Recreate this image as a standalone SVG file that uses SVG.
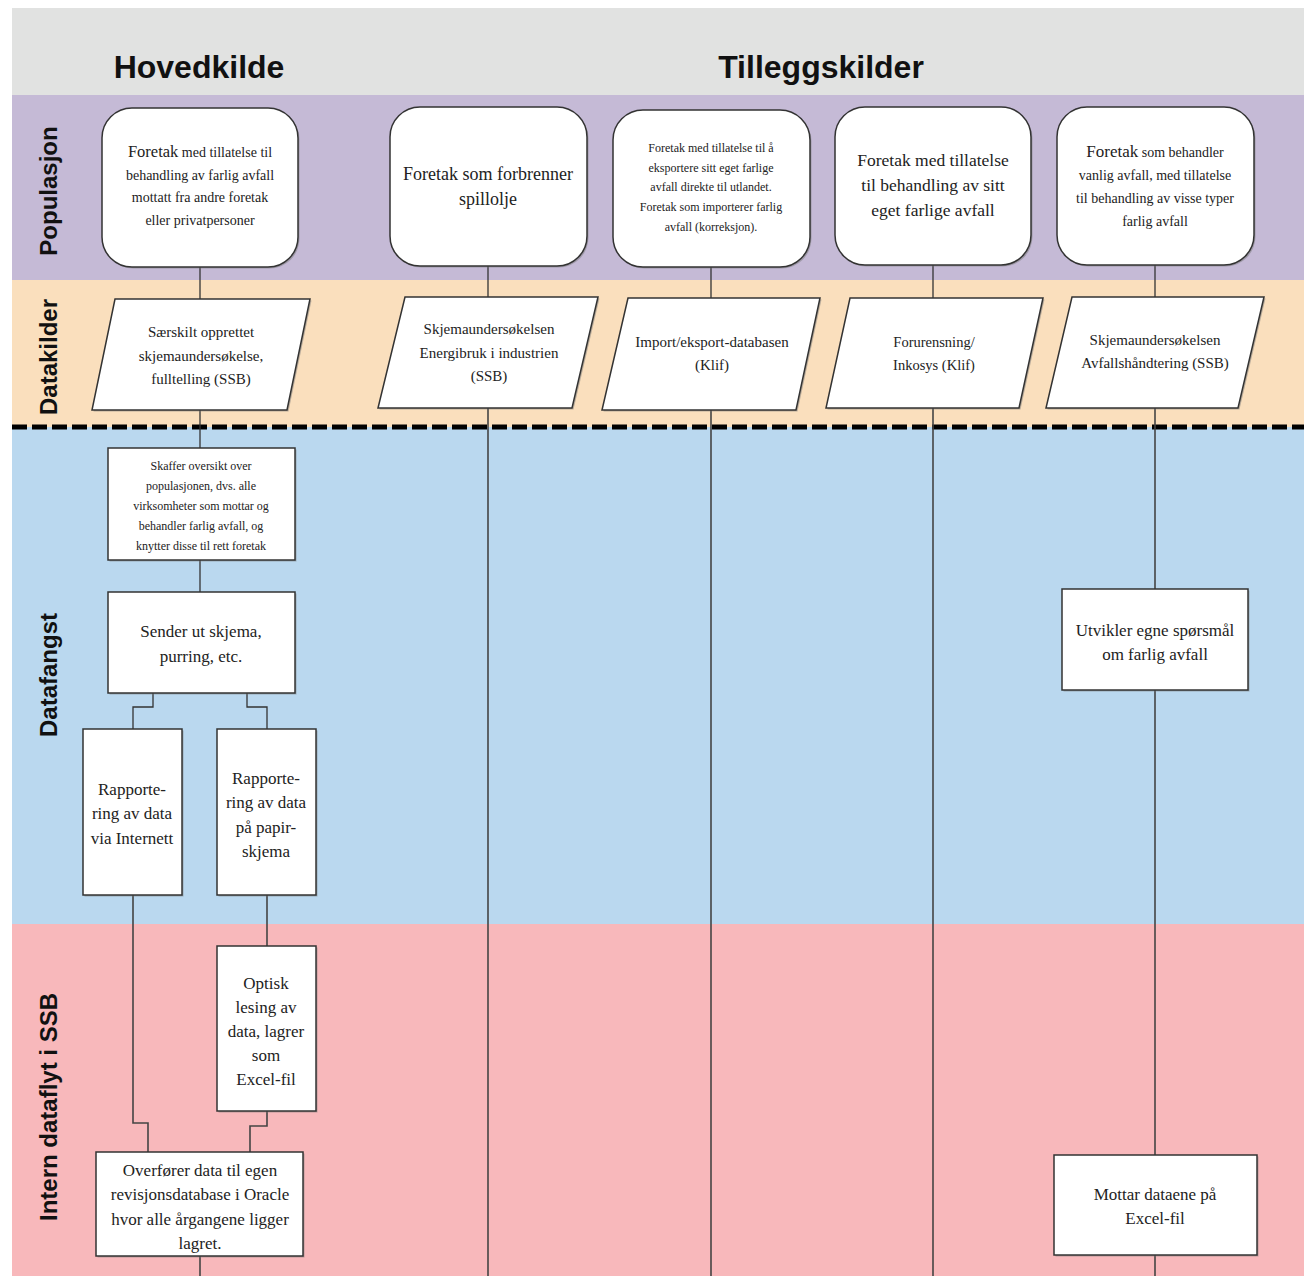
<svg xmlns="http://www.w3.org/2000/svg" width="1304" height="1276" viewBox="0 0 1304 1276">
<style>
.hdr{font-family:"Liberation Sans",Arial,sans-serif;font-weight:bold;font-size:32px;fill:#111;text-anchor:middle}
.lane{font-family:"Liberation Sans",Arial,sans-serif;font-weight:bold;font-size:24px;fill:#111;text-anchor:middle}
.t{font-family:"Liberation Serif","Times New Roman",serif;fill:#222;text-anchor:middle}
.box{fill:#fff;stroke:#333;stroke-width:1.5}
.sh{fill:#777;opacity:0.5}
.ln{fill:none;stroke:#333;stroke-width:1.3}
.col{fill:none;stroke:#444;stroke-width:1.6}
</style>
<rect x="0" y="0" width="1304" height="1276" fill="#fff"/>
<g id="lanes">
<rect x="12" y="8" width="1292" height="87" fill="#e1e2e1"/>
<rect x="12" y="95" width="1292" height="185" fill="#c5bad6"/>
<rect x="12" y="280" width="1292" height="147" fill="#fadfbd"/>
<rect x="12" y="427" width="1292" height="497" fill="#bad8ef"/>
<rect x="12" y="924" width="1292" height="352" fill="#f8b8bb"/>
<line x1="12" y1="427" x2="1304" y2="427" stroke="#000" stroke-width="5" stroke-dasharray="15 5"/>
<text class="hdr" x="199" y="78">Hovedkilde</text>
<text class="hdr" x="821" y="78">Tilleggskilder</text>
<text class="lane" transform="translate(57,191) rotate(-90)">Populasjon</text>
<text class="lane" transform="translate(57,357) rotate(-90)">Datakilder</text>
<text class="lane" transform="translate(57,675) rotate(-90)">Datafangst</text>
<text class="lane" transform="translate(57,1107) rotate(-90)">Intern dataflyt i SSB</text>
</g>
<g id="connectors">
<line class="ln" x1="200" y1="267" x2="200" y2="299"/>
<line class="ln" x1="200" y1="410" x2="200" y2="448"/>
<line class="ln" x1="200" y1="560" x2="200" y2="592"/>
<polyline class="ln" points="153,693 153,707 133,707 133,729"/>
<polyline class="ln" points="247,693 247,707 267,707 267,729"/>
<polyline class="col" points="133,895 133,1123 148,1123 148,1152"/>
<line class="col" x1="267" y1="895" x2="267" y2="946"/>
<polyline class="col" points="267,1111 267,1126 250,1126 250,1152"/>
<line class="col" x1="200" y1="1256" x2="200" y2="1276"/>
<line class="ln" x1="488" y1="266" x2="488" y2="297"/>
<line class="col" x1="488" y1="408" x2="488" y2="1276"/>
<line class="ln" x1="711" y1="267" x2="711" y2="298"/>
<line class="col" x1="711" y1="410" x2="711" y2="1276"/>
<line class="ln" x1="933" y1="265" x2="933" y2="298"/>
<line class="col" x1="933" y1="408" x2="933" y2="1276"/>
<line class="ln" x1="1155" y1="265" x2="1155" y2="297"/>
<line class="col" x1="1155" y1="408" x2="1155" y2="589"/>
<line class="col" x1="1155" y1="690" x2="1155" y2="1155"/>
<line class="col" x1="1155" y1="1255" x2="1155" y2="1276"/>
</g>
<g id="pop1">
<rect class="sh" x="103.5" y="109.5" width="196" height="159" rx="30"/>
<rect class="box" x="102" y="108" width="196" height="159" rx="30"/>
<text class="t" font-size="14"><tspan x="200" y="157"><tspan font-size="16.5">Foretak</tspan> med tillatelse til</tspan><tspan x="200" y="180">behandling av farlig avfall</tspan><tspan x="200" y="202">mottatt fra andre foretak</tspan><tspan x="200" y="225">eller privatpersoner</tspan></text>
</g>
<g id="pop2">
<rect class="sh" x="391.5" y="108.5" width="197" height="159" rx="30"/>
<rect class="box" x="390" y="107" width="197" height="159" rx="30"/>
<text class="t" font-size="18"><tspan x="488" y="180">Foretak som forbrenner</tspan><tspan x="488" y="205">spillolje</tspan></text>
</g>
<g id="pop3">
<rect class="sh" x="614.5" y="111.5" width="197" height="157" rx="30"/>
<rect class="box" x="613" y="110" width="197" height="157" rx="30"/>
<text class="t" font-size="12"><tspan x="711" y="152">Foretak med tillatelse til å</tspan><tspan x="711" y="172">eksportere sitt eget farlige</tspan><tspan x="711" y="191">avfall direkte til utlandet.</tspan><tspan x="711" y="211">Foretak som importerer farlig</tspan><tspan x="711" y="231">avfall (korreksjon).</tspan></text>
</g>
<g id="pop4">
<rect class="sh" x="836.5" y="108.5" width="196" height="158" rx="30"/>
<rect class="box" x="835" y="107" width="196" height="158" rx="30"/>
<text class="t" font-size="17.5"><tspan x="933" y="166">Foretak med tillatelse</tspan><tspan x="933" y="191">til behandling av sitt</tspan><tspan x="933" y="216">eget farlige avfall</tspan></text>
</g>
<g id="pop5">
<rect class="sh" x="1058.5" y="108.5" width="197" height="158" rx="30"/>
<rect class="box" x="1057" y="107" width="197" height="158" rx="30"/>
<text class="t" font-size="14"><tspan x="1155" y="157"><tspan font-size="17">Foretak</tspan> som behandler</tspan><tspan x="1155" y="180">vanlig avfall, med tillatelse</tspan><tspan x="1155" y="203">til behandling av visse typer</tspan><tspan x="1155" y="226">farlig avfall</tspan></text>
</g>
<g id="src1">
<polygon class="sh" points="116.5,300.5 311.5,300.5 288.5,411.5 93.5,411.5"/>
<polygon class="box" points="115,299 310,299 287,410 92,410"/>
<text class="t" font-size="15"><tspan x="201" y="337">Særskilt opprettet</tspan><tspan x="201" y="361">skjemaundersøkelse,</tspan><tspan x="201" y="384">fulltelling (SSB)</tspan></text>
</g>
<g id="src2">
<polygon class="sh" points="406.5,298.5 599.5,298.5 573.5,409.5 379.5,409.5"/>
<polygon class="box" points="405,297 598,297 572,408 378,408"/>
<text class="t" font-size="15"><tspan x="489" y="334">Skjemaundersøkelsen</tspan><tspan x="489" y="358">Energibruk i industrien</tspan><tspan x="489" y="381">(SSB)</tspan></text>
</g>
<g id="src3">
<polygon class="sh" points="629.5,299.5 821.5,299.5 797.5,411.5 603.5,411.5"/>
<polygon class="box" points="628,298 820,298 796,410 602,410"/>
<text class="t" font-size="15"><tspan x="712" y="347">Import/eksport-databasen</tspan><tspan x="712" y="370">(Klif)</tspan></text>
</g>
<g id="src4">
<polygon class="sh" points="851.5,299.5 1044.5,299.5 1020.5,409.5 827.5,409.5"/>
<polygon class="box" points="850,298 1043,298 1019,408 826,408"/>
<text class="t" font-size="14.5"><tspan x="934" y="347">Forurensning/</tspan><tspan x="934" y="370">Inkosys (Klif)</tspan></text>
</g>
<g id="src5">
<polygon class="sh" points="1073.5,298.5 1265.5,298.5 1239.5,409.5 1047.5,409.5"/>
<polygon class="box" points="1072,297 1264,297 1238,408 1046,408"/>
<text class="t" font-size="15"><tspan x="1155" y="345">Skjemaundersøkelsen</tspan><tspan x="1155" y="368">Avfallshåndtering (SSB)</tspan></text>
</g>
<g id="skaffer">
<rect class="sh" x="109.5" y="449.5" width="187" height="112"/>
<rect class="box" x="108" y="448" width="187" height="112"/>
<text class="t" font-size="12"><tspan x="201" y="470">Skaffer oversikt over</tspan><tspan x="201" y="490">populasjonen, dvs. alle</tspan><tspan x="201" y="510">virksomheter som mottar og</tspan><tspan x="201" y="530">behandler farlig avfall, og</tspan><tspan x="201" y="550">knytter disse til rett foretak</tspan></text>
</g>
<g id="sender">
<rect class="sh" x="109.5" y="593.5" width="187" height="101"/>
<rect class="box" x="108" y="592" width="187" height="101"/>
<text class="t" font-size="17"><tspan x="201" y="637">Sender ut skjema,</tspan><tspan x="201" y="662">purring, etc.</tspan></text>
</g>
<g id="rapp1">
<rect class="sh" x="84.5" y="730.5" width="99" height="166"/>
<rect class="box" x="83" y="729" width="99" height="166"/>
<text class="t" font-size="17"><tspan x="132" y="795">Rapporte-</tspan><tspan x="132" y="819">ring av data</tspan><tspan x="132" y="844">via Internett</tspan></text>
</g>
<g id="rapp2">
<rect class="sh" x="218.5" y="730.5" width="99" height="166"/>
<rect class="box" x="217" y="729" width="99" height="166"/>
<text class="t" font-size="17"><tspan x="266" y="784">Rapporte-</tspan><tspan x="266" y="808">ring av data</tspan><tspan x="266" y="833">på papir-</tspan><tspan x="266" y="857">skjema</tspan></text>
</g>
<g id="optisk">
<rect class="sh" x="218.5" y="947.5" width="99" height="165"/>
<rect class="box" x="217" y="946" width="99" height="165"/>
<text class="t" font-size="17"><tspan x="266" y="989">Optisk</tspan><tspan x="266" y="1013">lesing av</tspan><tspan x="266" y="1037">data, lagrer</tspan><tspan x="266" y="1061">som</tspan><tspan x="266" y="1085">Excel-fil</tspan></text>
</g>
<g id="overforer">
<rect class="sh" x="97.5" y="1153.5" width="207" height="104"/>
<rect class="box" x="96" y="1152" width="207" height="104"/>
<text class="t" font-size="17"><tspan x="200" y="1176">Overfører data til egen</tspan><tspan x="200" y="1200">revisjonsdatabase i Oracle</tspan><tspan x="200" y="1225">hvor alle årgangene ligger</tspan><tspan x="200" y="1249">lagret.</tspan></text>
</g>
<g id="utvikler">
<rect class="sh" x="1063.5" y="590.5" width="186" height="101"/>
<rect class="box" x="1062" y="589" width="186" height="101"/>
<text class="t" font-size="17"><tspan x="1155" y="636">Utvikler egne spørsmål</tspan><tspan x="1155" y="660">om farlig avfall</tspan></text>
</g>
<g id="mottar">
<rect class="sh" x="1055.5" y="1156.5" width="203" height="100"/>
<rect class="box" x="1054" y="1155" width="203" height="100"/>
<text class="t" font-size="17"><tspan x="1155" y="1200">Mottar dataene på</tspan><tspan x="1155" y="1224">Excel-fil</tspan></text>
</g>
</svg>
